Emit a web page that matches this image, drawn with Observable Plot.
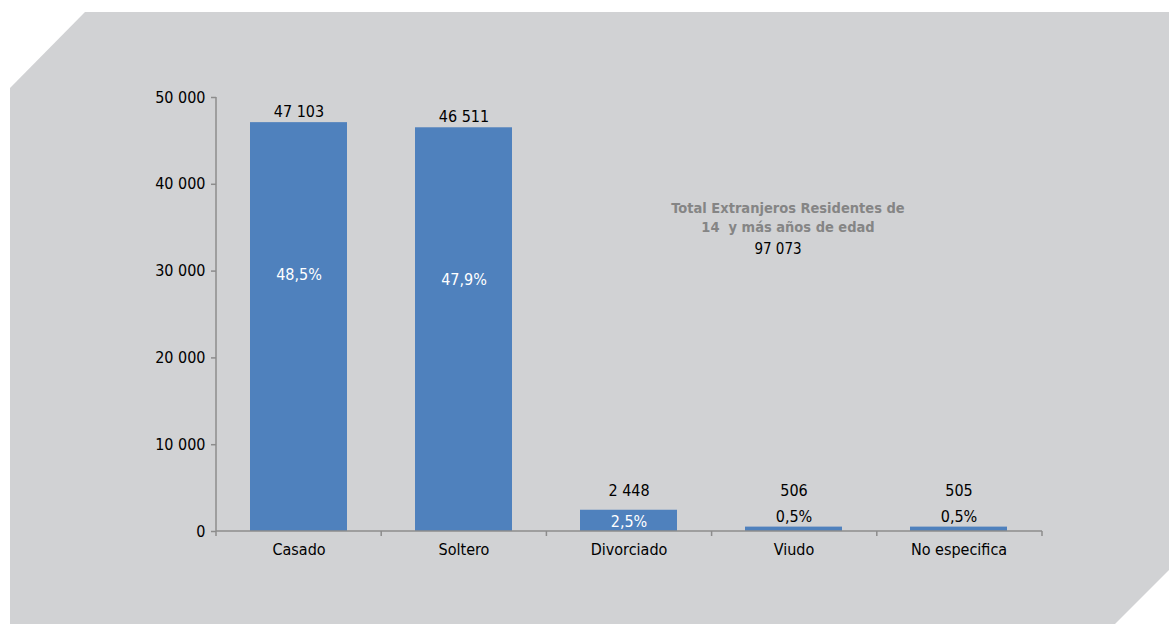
<!DOCTYPE html>
<html>
<head>
<meta charset="utf-8">
<script src="https://cdn.jsdelivr.net/npm/d3@7"></script>
<script src="https://cdn.jsdelivr.net/npm/@observablehq/plot@0.6"></script>
<style>
  html, body { margin: 0; padding: 0; background: #ffffff; }
  #wrap { position: relative; width: 1169px; height: 624px; overflow: hidden; }
  #bg { position: absolute; left: 0; top: 0; width: 1169px; height: 624px; background: #d1d2d4;
        clip-path: polygon(85px 12px, 1169px 12px, 1169px 570px, 1115px 624px, 10px 624px, 10px 88px); }
  #chart { position: absolute; left: 0; top: 0; }
</style>
</head>
<body>
<div id="wrap"><div id="bg"></div><div id="chart"></div></div>
<script>
const categories = ["Casado", "Soltero", "Divorciado", "Viudo", "No especifica"];
const values = [47103, 46511, 2448, 506, 505];
const percents = ["48,5%", "47,9%", "2,5%", "0,5%", "0,5%"];
const yTicks = [0, 10000, 20000, 30000, 40000, 50000];
const total = 97073;
const annotationLines = ["Total Extranjeros Residentes de", "14  y más años de edad"];

const data = categories.map((c, i) => ({category: c, value: values[i], pct: percents[i]}));
const fmt = v => d3.format(",")(v).replace(/,/g, " ");
const FONT = "'Liberation Sans Narrow', 'DejaVu Sans Condensed', 'Roboto Condensed', sans-serif";
const AXIS = "#8c8c8c";

const big = data.filter(d => d.value > 10000);
const small = data.filter(d => d.value <= 10000);

const axes = (index, scales, values, dims) => {
  const g = d3.create("svg:g");
  const x0 = dims.marginLeft, x1 = dims.width - dims.marginRight;
  const y0 = dims.height - dims.marginBottom, yTop = dims.marginTop;
  g.append("line").attr("x1", x0).attr("x2", x0).attr("y1", yTop).attr("y2", y0)
    .attr("stroke", AXIS).attr("stroke-width", 1.5);
  g.append("line").attr("x1", x0).attr("x2", x1).attr("y1", y0).attr("y2", y0)
    .attr("stroke", AXIS).attr("stroke-width", 1.5);
  const step = (x1 - x0) / categories.length;
  for (let i = 0; i <= categories.length; i++) {
    g.append("line").attr("x1", x0 + i * step).attr("x2", x0 + i * step)
      .attr("y1", y0).attr("y2", y0 + 5).attr("stroke", AXIS).attr("stroke-width", 1.5);
  }
  return g.node();
};

const chart = Plot.plot({
  width: 1169,
  height: 624,
  marginLeft: 216,
  marginRight: 127,
  marginTop: 97,
  marginBottom: 93,
  style: {background: "transparent", fontFamily: FONT, fontSize: "16px", color: "#000"},
  x: {domain: categories, paddingInner: 0.41, paddingOuter: 0.205, label: null},
  y: {domain: [0, 50000], label: null},
  marks: [
    Plot.barY(data, {x: "category", y: "value", fill: "#4f81bd"}),
    axes,
    Plot.axisY({ticks: yTicks, tickFormat: fmt, tickSize: 5, tickPadding: 6, stroke: AXIS,
                strokeWidth: 1.5, fontSize: 16, fill: "#000", label: null}),
    Plot.axisX({tickSize: 0, tickPadding: 12, fontSize: 16, fill: "#000", label: null}),
    Plot.text(big, {x: "category", y: "value", text: d => fmt(d.value), dy: -11, fontSize: 16, fill: "#000"}),
    Plot.text(small, {x: "category", y: 0, text: d => fmt(d.value), dy: -41, fontSize: 16, fill: "#000"}),
    Plot.text(big, {x: "category", y: "value", text: "pct", dy: 152, fontSize: 16, fill: "#fff"}),
    Plot.text(small.filter(d => d.value > 1000), {x: "category", y: 0, text: "pct", dy: -10, fontSize: 16, fill: "#fff"}),
    Plot.text(small.filter(d => d.value <= 1000), {x: "category", y: 0, text: "pct", dy: -15, fontSize: 16, fill: "#000"}),
    Plot.text([annotationLines[0]], {x: () => "Viudo", y: 37200, dx: -6, fontSize: 14.5, fontWeight: "bold", fill: "#858585"}),
    Plot.text([annotationLines[1]], {x: () => "Viudo", y: 35000, dx: -6, fontSize: 14.5, fontWeight: "bold", fill: "#858585"}),
    Plot.text([total], {x: () => "Viudo", y: 32500, dx: -16, text: d => fmt(d), fontSize: 15, fill: "#000"})
  ]
});
document.getElementById("chart").appendChild(chart);
</script>
</body>
</html>
